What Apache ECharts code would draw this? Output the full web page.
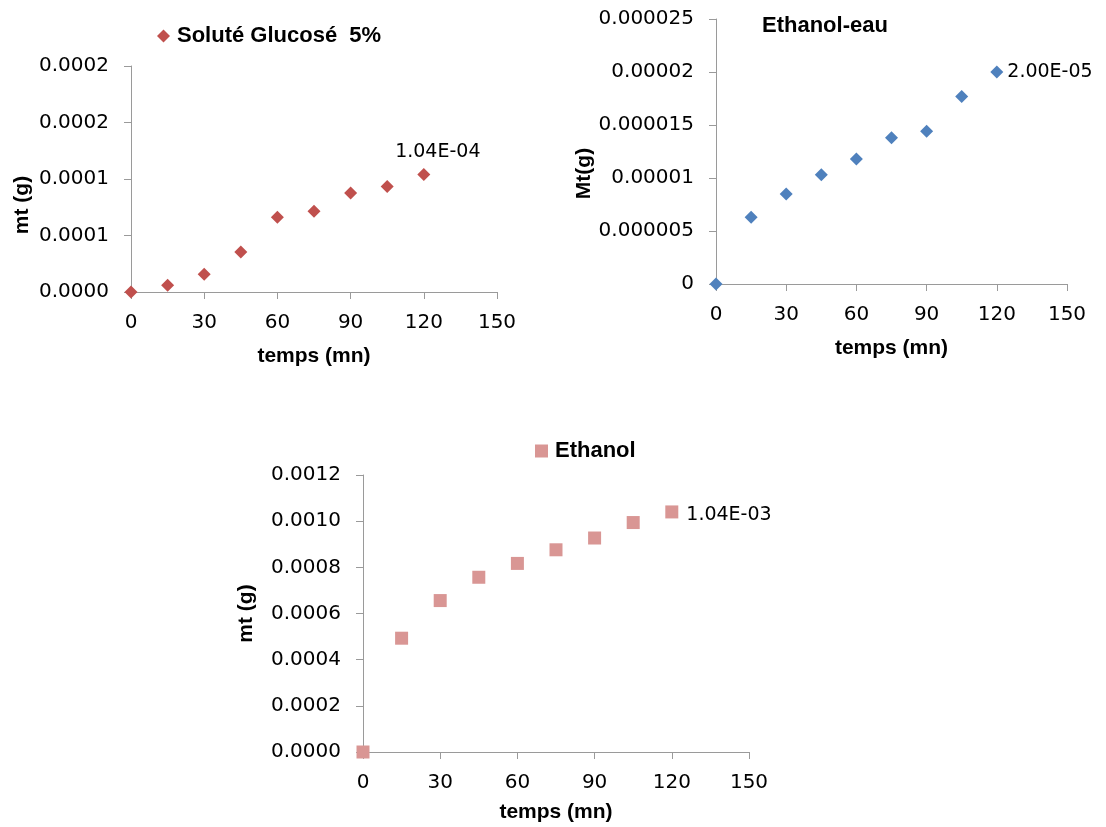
<!DOCTYPE html>
<html>
<head>
<meta charset="utf-8">
<script src="https://cdn.jsdelivr.net/npm/echarts@6/dist/echarts.min.js"></script>
<style>
  html, body { margin: 0; padding: 0; background: #fff; }
  #chart { width: 1106px; height: 827px; }
</style>
</head>
<body>
<div id="chart"></div>
<script>
// shared time axis (minutes)
const temps = [0, 15, 30, 45, 60, 75, 90, 105, 120]
const xTicks = [0, 30, 60, 90, 120, 150]

// mass uptake per solvent
const glucoseMt = [0, 0.0000059, 0.0000157, 0.0000353, 0.0000661, 0.0000714, 0.0000877, 0.0000934, 0.000104]
const ethanolEauMt = [0, 0.0000063, 0.0000085, 0.0000103, 0.0000118, 0.0000138, 0.0000144, 0.0000177, 0.00002]
const ethanolMt = [0, 0.000493, 0.000656, 0.000757, 0.000817, 0.000876, 0.000927, 0.000994, 0.00104]

const names = ['Soluté Glucosé  5%', 'Ethanol-eau', 'Ethanol']

const TICK_FONT = 'DejaVu Sans'
const BOLD_FONT = 'Liberation Sans'
const AXIS_GREY = '#9a9a9a'

const pairs = (ys) => temps.map((t, i) => [t, ys[i]])

// Excel-ish "1.04E-04"
function sci(v) {
  const [m, e] = v.toExponential(2).split('e')
  const n = Math.abs(parseInt(e, 10))
  return `${m}E${e.startsWith('-') ? '-' : '+'}${String(n).padStart(2, '0')}`
}

const lastOnly = (p) => (p.dataIndex === temps.length - 1 ? sci(p.value[1]) : '')

function xAxisFor(gridIndex, gap) {
  return {
    gridIndex,
    type: 'value',
    min: xTicks[0],
    max: xTicks[xTicks.length - 1],
    interval: xTicks[1] - xTicks[0],
    name: 'temps (mn)',
    nameLocation: 'middle',
    nameGap: gap,
    nameTextStyle: { fontFamily: BOLD_FONT, fontWeight: 'bold', fontSize: 21, color: '#000' },
    axisLine: { show: true, lineStyle: { color: AXIS_GREY, width: 1 } },
    axisTick: { show: true, length: 7, lineStyle: { color: AXIS_GREY } },
    axisLabel: { fontFamily: TICK_FONT, fontSize: 20, color: '#000', margin: 21 },
    splitLine: { show: false },
  }
}

function yAxisFor(gridIndex, max, interval, name, gap, fmt, pad) {
  return {
    gridIndex,
    type: 'value',
    min: 0,
    max,
    interval,
    name,
    nameLocation: 'middle',
    nameGap: gap,
    nameTextStyle: {
      fontFamily: BOLD_FONT, fontWeight: 'bold', fontSize: 21, color: '#000',
      padding: pad,
    },
    axisLine: { show: true, lineStyle: { color: AXIS_GREY, width: 1 } },
    axisTick: { show: true, length: 7, lineStyle: { color: AXIS_GREY } },
    axisLabel: { fontFamily: TICK_FONT, fontSize: 20, color: '#000', margin: 22, formatter: fmt },
    splitLine: { show: false },
  }
}

// excel rounds half up: 0.00015 -> 0.0002
const fixed4 = (v) => (Math.round(v * 1e4 + 1e-6) / 1e4).toFixed(4)
const trimmed = (v) => (Math.abs(v) < 1e-12 ? '0' : (Math.round(v * 1e6) / 1e6).toFixed(6).replace(/0+$/, ''))

const chart = echarts.init(document.getElementById('chart'), null, { renderer: 'canvas' })

chart.setOption({
  backgroundColor: '#fff',
  animation: false,
  title: {
    text: names[1],
    left: 757,
    top: 10,
    textStyle: { fontFamily: BOLD_FONT, fontWeight: 'bold', fontSize: 22, color: '#000' },
  },
  legend: [
    {
      data: [names[0]],
      left: 152,
      top: 20,
      itemWidth: 13,
      itemHeight: 13,
      textStyle: { fontFamily: BOLD_FONT, fontWeight: 'bold', fontSize: 22, color: '#000', padding: [0, 0, 0, 2] },
      selectedMode: false,
    },
    {
      data: [names[2]],
      left: 530,
      top: 435,
      itemWidth: 13,
      itemHeight: 13,
      textStyle: { fontFamily: BOLD_FONT, fontWeight: 'bold', fontSize: 22, color: '#000', padding: [0, 0, 0, 2] },
      selectedMode: false,
    },
  ],
  grid: [
    { left: 131, top: 66, width: 366, height: 226, outerBoundsMode: 'none' },
    { left: 716, top: 19, width: 351, height: 265, outerBoundsMode: 'none' },
    { left: 363, top: 475, width: 386, height: 277, outerBoundsMode: 'none' },
  ],
  xAxis: [xAxisFor(0, 54), xAxisFor(1, 54), xAxisFor(2, 50)],
  yAxis: [
    yAxisFor(0, 0.0002, 0.00005, 'mt (g)', 98, fixed4, [0, 52, 0, 0]),
    yAxisFor(1, 0.000025, 0.000005, 'Mt(g)', 104, trimmed, [0, 44, 0, 0]),
    yAxisFor(2, 0.0012, 0.0002, 'mt (g)', 106, fixed4, [0, 0, 0, 0]),
  ],
  series: [
    {
      name: names[0],
      type: 'scatter',
      xAxisIndex: 0,
      yAxisIndex: 0,
      symbol: 'diamond',
      symbolSize: [13, 13],
      itemStyle: { color: '#C0504D', opacity: 1 },
      data: pairs(glucoseMt),
      label: {
        show: true,
        position: 'top',
        distance: 6,
        offset: [14, 0],
        fontFamily: TICK_FONT,
        fontSize: 19,
        color: '#000',
        formatter: lastOnly,
      },
    },
    {
      name: names[1],
      type: 'scatter',
      xAxisIndex: 1,
      yAxisIndex: 1,
      symbol: 'diamond',
      symbolSize: [13, 13],
      itemStyle: { color: '#4F81BD', opacity: 1 },
      data: pairs(ethanolEauMt),
      label: {
        show: true,
        position: 'right',
        distance: 4,
        fontFamily: TICK_FONT,
        fontSize: 19,
        color: '#000',
        formatter: lastOnly,
      },
    },
    {
      name: names[2],
      type: 'scatter',
      xAxisIndex: 2,
      yAxisIndex: 2,
      symbol: 'rect',
      symbolSize: [13, 13],
      itemStyle: { color: '#D99694', opacity: 1 },
      data: pairs(ethanolMt),
      label: {
        show: true,
        position: 'right',
        distance: 8,
        offset: [0, 3],
        fontFamily: TICK_FONT,
        fontSize: 19,
        color: '#000',
        formatter: lastOnly,
      },
    },
  ],
})
</script>
</body>
</html>
